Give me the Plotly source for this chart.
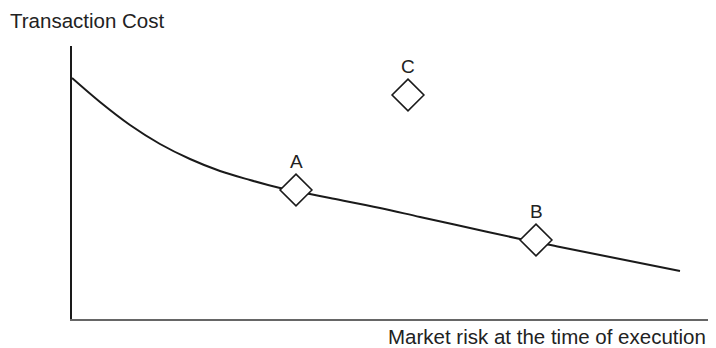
import plotly.graph_objects as go

# Curve: market risk (x) vs transaction cost (y), arbitrary units
risk = [0, 28, 58, 88, 118, 148, 178, 208, 238, 258, 308, 348, 398, 448, 488, 528, 568, 608]
cost = [241, 217, 194, 175, 160, 148, 139, 131, 125, 121, 111, 102, 91, 80, 72, 64, 56, 48]

# Labelled strategies
point_labels = ["A", "B", "C"]
point_risk = [224, 464, 336]
point_cost = [129, 79, 224]

x_title = "Market risk at the time of execution"
y_title = "Transaction Cost"

FONT = "Liberation Sans, Arial, Helvetica, sans-serif"

fig = go.Figure()
fig.add_trace(go.Scatter(
    x=risk, y=cost, mode="lines",
    line=dict(color="#1a1a1a", width=2, shape="spline", smoothing=1),
    hoverinfo="skip", showlegend=False,
))
fig.add_trace(go.Scatter(
    x=point_risk, y=point_cost, mode="markers",
    marker=dict(symbol="diamond", size=24.5, color="white",
                line=dict(color="#1a1a1a", width=1.6)),
    showlegend=False,
))

for lab, xv, yv in zip(point_labels, point_risk, point_cost):
    fig.add_annotation(x=xv, y=yv, text=lab, showarrow=False, yshift=29,
                       font=dict(family=FONT, size=19, color="#222"))

fig.add_annotation(xref="paper", yref="paper", x=0, y=1, xanchor="left", yanchor="middle",
                   xshift=-64, yshift=26, text=y_title, showarrow=False,
                   font=dict(family=FONT, size=20.5, color="#222"))
fig.add_annotation(xref="paper", yref="paper", x=1, y=0, xanchor="right", yanchor="middle",
                   xshift=-8, yshift=-17, text=x_title, showarrow=False,
                   font=dict(family=FONT, size=20.5, color="#222"))

# The page body adds an 8px margin, so the figure is 8px smaller each way
fig.update_layout(
    width=708, height=340,
    margin=dict(l=64, r=0, t=38, b=29),
    paper_bgcolor="white", plot_bgcolor="white",
    font=dict(family=FONT),
    xaxis=dict(range=[0, 644], showgrid=False, zeroline=False, showticklabels=False,
               ticks="", showline=True, linecolor="#666", linewidth=2),
    yaxis=dict(range=[0, 273], showgrid=False, zeroline=False, showticklabels=False,
               ticks="", showline=True, linecolor="#1a1a1a", linewidth=1.6),
)

fig.write_html("out.html")
